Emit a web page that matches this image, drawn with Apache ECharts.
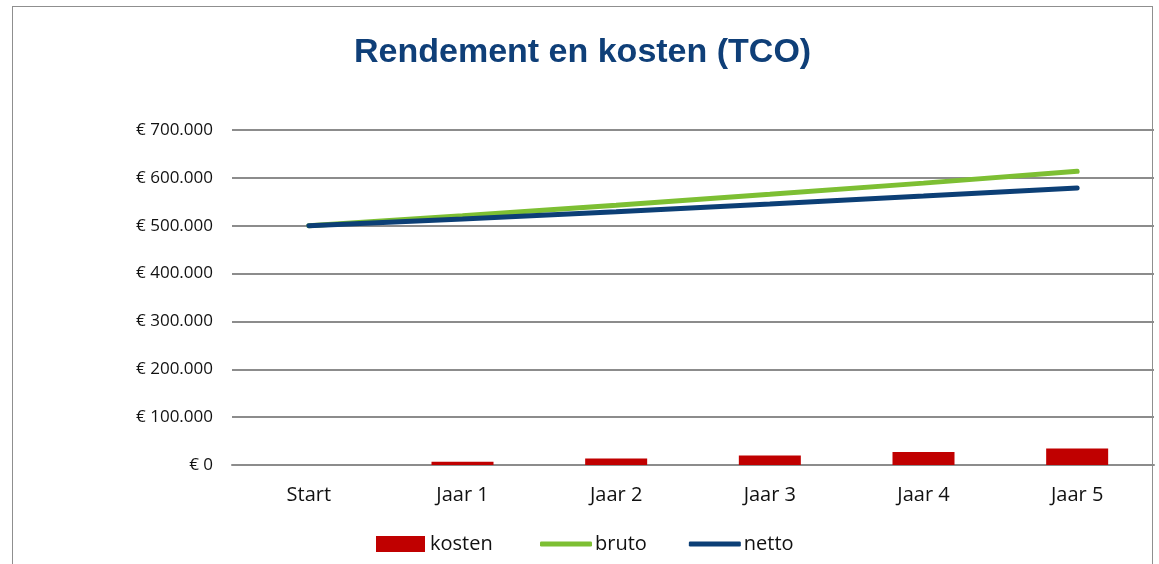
<!DOCTYPE html>
<html>
<head>
<meta charset="utf-8">
<script src="https://cdn.jsdelivr.net/npm/echarts@6/dist/echarts.min.js"></script>
<style>
html,body{margin:0;padding:0;background:#fff;}
#frame{position:absolute;left:12px;top:6px;width:1141px;height:600px;border:1.5px solid #8f8f8f;box-sizing:border-box;}
#chart{position:absolute;left:0;top:0;width:1159px;height:564px;}
</style>
</head>
<body>
<div id="frame"></div>
<div id="chart"></div>
<script>
const titleText = 'Rendement en kosten (TCO)';
const categories = ['Start', 'Jaar 1', 'Jaar 2', 'Jaar 3', 'Jaar 4', 'Jaar 5'];
const kosten = [0, 7000, 13500, 20000, 27000, 34500];
const bruto = [500000, 521000, 542800, 565500, 589000, 613600];
const netto = [500000, 514000, 529300, 545500, 562000, 579000];
const yTicks = [0, 100000, 200000, 300000, 400000, 500000, 600000, 700000];

function euro(v){
  if (v === 0) return '€ 0';
  return '€ ' + String(v).replace(/\B(?=(\d{3})+(?!\d))/g, '.');
}

const legendText = {fontFamily:'Open Sans', fontSize:20, lineHeight:20, color:'#111', padding:[0,0,0,-2]};

const chart = echarts.init(document.getElementById('chart'), null, {renderer:'canvas'});
chart.setOption({
  animation:false,
  backgroundColor:'transparent',
  title:{
    text:titleText, left:354, top:36, padding:0,
    textStyle:{fontFamily:'Liberation Sans', fontWeight:'bold', fontSize:34, color:'#0f3f78'}
  },
  grid:{left:232, right:5, top:130, bottom:99, containLabel:false},
  legend:[
    {
      left:376, top:534, padding:0, itemWidth:49, itemHeight:16,
      textStyle:{fontFamily:'Open Sans', fontSize:20, lineHeight:20, color:'#111', padding:0},
      data:[{name:'kosten', icon:'rect'}]
    },
    {
      left:540, top:534, padding:0, itemGap:42, itemWidth:52, itemHeight:5,
      icon:'roundRect',
      textStyle:legendText,
      data:[{name:'bruto'}, {name:'netto'}]
    }
  ],
  xAxis:{
    type:'category', data:categories, boundaryGap:true,
    axisLine:{show:true, lineStyle:{color:'#8c8c8c', width:2}},
    axisTick:{show:false},
    axisLabel:{fontFamily:'Open Sans', fontSize:20, color:'#111', margin:20}
  },
  yAxis:{
    type:'value', min:yTicks[0], max:yTicks[yTicks.length-1], interval:100000,
    axisLine:{show:false}, axisTick:{show:false},
    splitLine:{lineStyle:{color:'#8c8c8c', width:2}},
    axisLabel:{fontFamily:'Open Sans', fontSize:17, color:'#111', margin:19, formatter:euro}
  },
  series:[
    {name:'kosten', type:'bar', data:kosten, barWidth:62, itemStyle:{color:'#c00000'}},
    {name:'bruto', type:'line', data:bruto, showSymbol:false, symbol:'none', z:3,
     lineStyle:{color:'#7dbf33', width:5, cap:'round'}, itemStyle:{color:'#7dbf33'}},
    {name:'netto', type:'line', data:netto, showSymbol:false, symbol:'none', z:4,
     lineStyle:{color:'#0c3f76', width:5, cap:'round'}, itemStyle:{color:'#0c3f76'}}
  ]
});
</script>
</body>
</html>
